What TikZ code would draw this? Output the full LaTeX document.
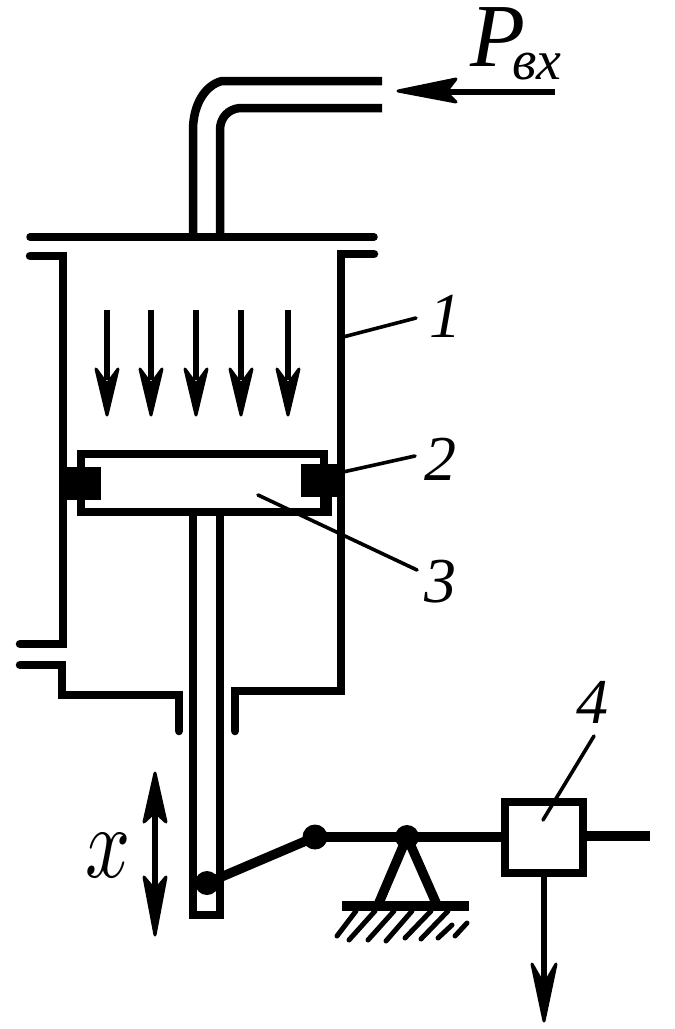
\documentclass[tikz,border=0pt]{standalone}
\usepackage{fontspec}
\setmainfont{Liberation Serif}
\begin{document}
\begin{tikzpicture}[x=1pt,y=-1pt,line join=miter,
  wall/.style={line width=8.5pt,line cap=butt},
  thin wall/.style={line width=7.5pt,line cap=round},
  leader/.style={line width=3.6pt,line cap=round},
  shaft/.style={line width=5.5pt},
  head/.style={fill=black,draw=black,line width=3pt,line join=round},
  lever/.style={line width=9.5pt},
  hatch/.style={line width=5pt,line cap=round},
  lab/.style={inner sep=0pt,anchor=base,font=\fontsize{64}{64}\selectfont\itshape},
  big/.style={inner sep=0pt,anchor=base west,font=\fontsize{90}{90}\selectfont\itshape},
  pin/.style={circle,fill=black,inner sep=0pt,minimum size=#1}]
\useasboundingbox (0,0) rectangle (675,1029);
% inlet pipe
\draw[wall] (382,81) -- (222,81) .. controls (205,85) and (193,105) .. (193,130) -- (193,237);
\draw[wall] (382,108) -- (240,108) .. controls (228,109) and (220,118) .. (220,130) -- (220,237);
% cylinder
\draw[thin wall] (30,237) -- (374,237);
\draw[wall,line cap=round] (30,256) -- (63,256) -- (63,644) -- (20,644);
\draw[wall,line cap=round] (374,254) -- (341,254) -- (341,691) -- (235,691) -- (235,731);
\draw[wall,line cap=round] (20,665) -- (62,665) -- (62,695) -- (179,695) -- (179,731);
% pressure arrows
\foreach \ax in {107,151,196,241,288}{
  \draw[shaft] (\ax,310) -- (\ax,380);
  \fill[head] (\ax-11,369) -- (\ax,415) -- (\ax+11,369) -- (\ax,384) -- cycle;
}
% piston
\draw[wall] (81,454) rectangle (324,512);
\draw[wall] (324,512) -- (328,512) -- (328,490);
\fill (60,467) rectangle (101,500);
\fill (301,464) rectangle (343,497);
% rod
\draw[wall,line width=7.5pt] (193,512) -- (193,915) -- (220,915) -- (220,512);
% leaders
\coordinate (l1) at (343,337); \coordinate (e1) at (416,318);
\coordinate (l2) at (343,472); \coordinate (e2) at (415,456);
\coordinate (l3) at (258,495); \coordinate (e3) at (417,570);
\coordinate (l4) at (543,820); \coordinate (e4) at (594,736);
\draw[leader] (l1) -- (e1);
\draw[leader] (l2) -- (e2);
\draw[leader] (l3) -- (e3);
\draw[leader] (l4) -- (e4);
% lever
\node[pin=24pt] (p1) at (207,883) {};
\node[pin=25pt] (p2) at (315,837) {};
\node[pin=24pt] (p3) at (407,837) {};
\node[draw,line width=8pt,minimum width=78pt,minimum height=71pt,inner sep=0pt] (box) at (544,837.5) {};
\coordinate (stub) at (650,836);
\coordinate (legL) at (378,905);
\coordinate (legR) at (437,905);
\draw[lever] (p1.center) -- (p2.center);
\draw[lever] (p2.center) -- (p3.center) -- (box.west |- p3.center);
\draw[lever] (box.east |- stub) -- (stub);
\draw[lever] (p3.center) -- (legL);
\draw[lever] (p3.center) -- (legR);
% ground
\draw[lever] (342,906) -- (469,906);
\draw[hatch] (337,936) -- (356,911);
\draw[hatch] (349,940) -- (375,911);
\draw[hatch] (368,940) -- (394,911);
\draw[hatch] (386,941) -- (412,911);
\draw[hatch] (405,938) -- (431,911);
\draw[hatch] (421,939) -- (448,911);
\draw[hatch] (438,938) -- (452,925);
\draw[hatch] (455,936) -- (467,923);
% outlet arrow
\coordinate (o1) at (544,985);
\draw[shaft,line width=6pt] (box.south) -- (o1);
\fill[head] (532,964) -- (544,1021) -- (556,964) -- (544,985) -- cycle;
% inlet arrow
\coordinate (i1) at (555,92);
\coordinate (i2) at (440,92);
\draw[shaft] (i1) -- (i2);
\fill[head] (398,91) -- (456,79) -- (446,92) -- (456,102) -- cycle;
% stroke arrow
\coordinate (x1) at (155,800);
\coordinate (x2) at (155,910);
\draw[shaft] (x1) -- (x2);
\fill[head] (155,773) -- (166,822) -- (155,812) -- (144,822) -- cycle;
\fill[head] (155,935) -- (166,877) -- (155,890) -- (144,877) -- cycle;
% labels
\node[big] (tP) at (470,66) {P};
\node[inner sep=0pt,anchor=base west,font=\fontsize{56}{56}\selectfont\itshape] (tv) at (512,79) {вх};
\node[inner sep=0pt,anchor=base west,xscale=7.9,yscale=10.2,transform shape] (tx) at (84,877) {$x$};
\node[lab] (t1) at (445,337) {1};
\node[lab] (t2) at (440,480) {2};
\node[lab] (t3) at (440,602) {3};
\node[lab] (t4) at (592,723) {4};
\end{tikzpicture}
\end{document}
